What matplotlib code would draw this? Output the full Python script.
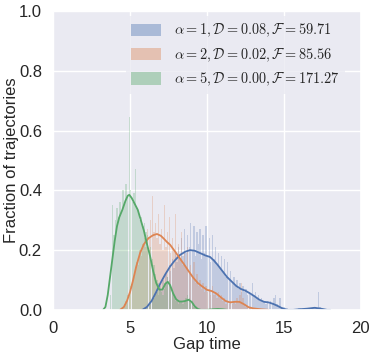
import numpy as np
import matplotlib
matplotlib.use("Agg")
import matplotlib.pyplot as plt
import seaborn as sns

# ---------------- data ----------------
labels = [r"$\alpha=1, \mathcal{D}=0.08, \mathcal{F}=59.71$",
          r"$\alpha=2, \mathcal{D}=0.02, \mathcal{F}=85.56$",
          r"$\alpha=5, \mathcal{D}=0.00, \mathcal{F}=171.27$"]
bin_width = 0.1

# histogram (fraction of trajectories per gap-time bin)
blue_start = 6.0
blue_hist = [0.01, 0.01, 0.02, 0.02, 0.03,
             0.04, 0.05, 0.06, 0.05, 0.08,
             0.07, 0.10, 0.09, 0.12, 0.11,
             0.15, 0.13, 0.17, 0.14, 0.19,
             0.16, 0.21, 0.17, 0.24, 0.18,
             0.27, 0.19, 0.25, 0.21, 0.29,
             0.20, 0.28, 0.18, 0.26, 0.22,
             0.27, 0.17, 0.25, 0.19, 0.28,
             0.18, 0.24, 0.16, 0.25, 0.17,
             0.21, 0.15, 0.19, 0.14, 0.18,
             0.13, 0.17, 0.11, 0.16, 0.10,
             0.13, 0.09, 0.11, 0.08, 0.10,
             0.07, 0.09, 0.06, 0.08, 0.06,
             0.07, 0.05, 0.06, 0.05, 0.09,
             0.05, 0.06, 0.04, 0.05, 0.03,
             0.04, 0.03, 0.03, 0.02, 0.03,
             0.02, 0.03, 0.02, 0.04, 0.05,
             0.02, 0.01, 0.04, 0.01, 0.01,
             0.01, 0.005, 0.005, 0.0, 0.0,
             0.0, 0.0, 0.0, 0.0, 0.005,
             0.005, 0.0, 0.0, 0.0, 0.0,
             0.0, 0.005, 0.0, 0.005, 0.01,
             0.01, 0.005, 0.06, 0.01, 0.005]

orange_start = 4.5
orange_hist = [0.01, 0.02, 0.03, 0.05, 0.06,
               0.08, 0.10, 0.11, 0.14, 0.16,
               0.15, 0.20, 0.18, 0.22, 0.24,
               0.21, 0.27, 0.24, 0.30, 0.38,
               0.26, 0.29, 0.24, 0.32, 0.22,
               0.27, 0.20, 0.35, 0.21, 0.26,
               0.31, 0.19, 0.24, 0.20, 0.32,
               0.18, 0.22, 0.17, 0.26, 0.15,
               0.19, 0.14, 0.21, 0.12, 0.15,
               0.11, 0.16, 0.09, 0.12, 0.08,
               0.10, 0.07, 0.09, 0.06, 0.08,
               0.06, 0.07, 0.05, 0.08, 0.05,
               0.06, 0.04, 0.06, 0.04, 0.05,
               0.03, 0.04, 0.02, 0.03, 0.02,
               0.03, 0.02, 0.03, 0.02, 0.04,
               0.03, 0.05, 0.09, 0.04, 0.02,
               0.01, 0.01, 0.005, 0.005, 0.005,
               0.005, 0.003, 0.003, 0.003, 0.002,
               0.002]

green_start = 3.7
green_hist = [0.05, 0.35, 0.25, 0.30, 0.34,
              0.31, 0.36, 0.33, 0.40, 0.36,
              0.42, 0.38, 0.645, 0.40, 0.36,
              0.39, 0.47, 0.34, 0.33, 0.30,
              0.31, 0.28, 0.29, 0.26, 0.25,
              0.20, 0.21, 0.17, 0.15, 0.12,
              0.10, 0.09, 0.07, 0.06, 0.05,
              0.07, 0.09, 0.11, 0.10, 0.08,
              0.06, 0.05, 0.03, 0.03, 0.02,
              0.03, 0.03, 0.02, 0.03, 0.04,
              0.05, 0.04, 0.03, 0.02, 0.01,
              0.01]

# kernel density estimate curves
blue_kde_x = [5.8, 6.1, 6.4, 6.7, 7.0, 7.3, 7.6, 7.9, 8.25, 8.6, 8.9, 9.2, 9.55,
              9.9, 10.2, 10.45, 10.7, 11.0, 11.3, 11.6, 11.9, 12.2, 12.5, 12.8,
              13.1, 13.4, 13.7, 14.0, 14.3, 14.6, 14.9, 15.2, 15.6, 16.0, 16.5,
              17.0, 17.4, 17.8, 18.0]
blue_kde_y = [0.0, 0.01, 0.03, 0.06, 0.092, 0.12, 0.145, 0.165, 0.184, 0.195,
              0.20, 0.198, 0.19, 0.182, 0.177, 0.165, 0.15, 0.13, 0.11, 0.095,
              0.08, 0.07, 0.064, 0.055, 0.045, 0.034, 0.027, 0.025, 0.02, 0.013,
              0.005, 0.0, 0.0, 0.002, 0.004, 0.007, 0.004, 0.0, 0.0]

orange_kde_x = [4.35, 4.6, 4.8, 5.0, 5.2, 5.4, 5.65, 5.9, 6.2, 6.5, 6.75, 7.0,
                7.2, 7.4, 7.6, 7.9, 8.2, 8.5, 8.8, 9.1, 9.4, 9.7, 10.0, 10.3,
                10.6, 10.9, 11.2, 11.5, 11.8, 12.1, 12.4, 12.7, 13.0, 13.5, 14.0]
orange_kde_y = [0.0, 0.01, 0.03, 0.06, 0.10, 0.145, 0.19, 0.22, 0.24, 0.25,
                0.254, 0.248, 0.238, 0.227, 0.218, 0.197, 0.175, 0.153, 0.13,
                0.108, 0.09, 0.078, 0.067, 0.063, 0.055, 0.042, 0.03, 0.025,
                0.027, 0.027, 0.019, 0.009, 0.005, 0.002, 0.0]

green_kde_x = [3.25, 3.4, 3.55, 3.7, 3.85, 4.0, 4.15, 4.3, 4.5, 4.7, 4.85, 4.95,
               5.1, 5.3, 5.5, 5.7, 5.9, 6.1, 6.3, 6.5, 6.7, 6.9, 7.1, 7.3, 7.45,
               7.6, 7.8, 8.0, 8.2, 8.4, 8.6, 8.8, 9.0, 9.2, 9.4, 9.6, 10.0, 10.4,
               10.7, 11.0, 11.3]
green_kde_y = [0.0, 0.01, 0.05, 0.11, 0.17, 0.23, 0.28, 0.31, 0.335, 0.365,
               0.382, 0.385, 0.375, 0.355, 0.335, 0.30, 0.265, 0.22, 0.18, 0.13,
               0.09, 0.068, 0.068, 0.088, 0.094, 0.083, 0.055, 0.035, 0.028,
               0.028, 0.03, 0.034, 0.027, 0.012, 0.003, 0.0, 0.0, 0.002, 0.003,
               0.002, 0.0]

x_ticks = [0, 5, 10, 15, 20]
y_ticks = [0.0, 0.2, 0.4, 0.6, 0.8, 1.0]

# ---------------- plot ----------------
sns.set_theme(style="darkgrid")
plt.rcParams["font.family"] = ["Liberation Sans", "DejaVu Sans"]
plt.rcParams["mathtext.fontset"] = "cm"

colors = ["#4C72B0", "#DD8452", "#55A868"]

fig = plt.figure(figsize=(3.74, 3.57), dpi=100)
ax = fig.add_axes([0.142, 0.132, 0.823, 0.837])

series = [(blue_start, blue_hist, blue_kde_x, blue_kde_y),
          (orange_start, orange_hist, orange_kde_x, orange_kde_y),
          (green_start, green_hist, green_kde_x, green_kde_y)]

for (start, hist, kx, ky), c, lab in zip(series, colors, labels):
    left = start + bin_width * np.arange(len(hist))
    ax.bar(left, hist, width=bin_width * 0.9, align="edge", color=c,
           alpha=0.26, linewidth=0)
    ax.plot(kx, ky, color=c, lw=1.3)
    ax.bar([-10], [0], color=c, alpha=0.4, linewidth=0, label=lab)

ax.set_xlim(0, 20)
ax.set_ylim(0, 1.0)
ax.set_xticks(x_ticks)
ax.set_yticks(y_ticks)
ax.set_xticklabels([str(v) for v in x_ticks], fontsize=12)
ax.set_yticklabels([f"{v:.1f}" for v in y_ticks], fontsize=12)
ax.tick_params(axis="both", pad=2)
ax.set_xlabel("Gap time", fontsize=12, labelpad=1)
ax.set_ylabel("Fraction of trajectories", fontsize=12)
ax.yaxis.set_label_coords(-0.112, 0.5)

leg = ax.legend(loc="upper right", bbox_to_anchor=(1.0, 1.035),
                fontsize=10.3, frameon=True,
                facecolor="#EAEAF2", edgecolor="none", framealpha=0.8,
                handlelength=2.1, handleheight=0.95, borderaxespad=1.1,
                labelspacing=0.5, handletextpad=0.85)

fig.savefig("out.png", dpi=100)
